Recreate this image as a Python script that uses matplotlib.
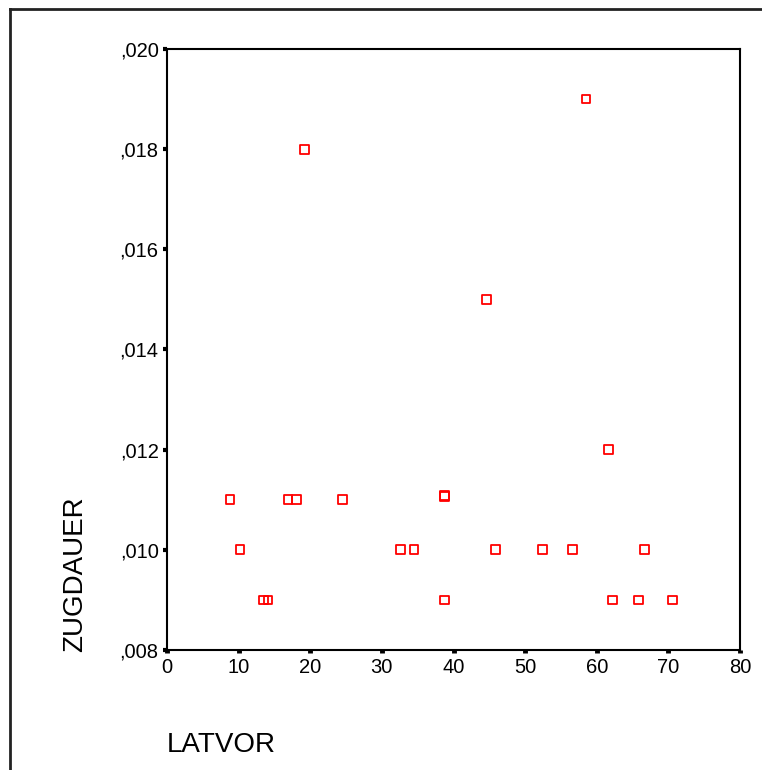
import numpy as np
import matplotlib
matplotlib.use('Agg')
import matplotlib.pyplot as plt
from matplotlib.lines import Line2D

plt.rcParams['font.family'] = ['Liberation Sans', 'DejaVu Sans']

# values
latvor = [8.8, 10.2, 13.5, 14.1, 16.9, 18.1, 19.2, 24.5, 32.6, 34.5,
          38.7, 38.72, 38.7, 44.6, 45.9, 52.4, 56.6, 58.5, 61.6, 62.2,
          65.8, 66.7, 70.6]
zugdauer = [0.011, 0.010, 0.009, 0.009, 0.011, 0.011, 0.018, 0.011, 0.010, 0.010,
            0.01107, 0.01108, 0.009, 0.015, 0.010, 0.010, 0.010, 0.019, 0.012, 0.009,
            0.009, 0.010, 0.009]
x_ticks = [0, 10, 20, 30, 40, 50, 60, 70, 80]
y_ticks = [0.008, 0.010, 0.012, 0.014, 0.016, 0.018, 0.020]
y_labels = [',008', ',010', ',012', ',014', ',016', ',018', ',020']

W, H = 762, 770
fig = plt.figure(figsize=(W / 100, H / 100), dpi=100)

# axes box in pixels: left 167, right 740, top 49, bottom 650
ax = fig.add_axes([167 / W, 1 - 650 / H, (740 - 167) / W, (650 - 49) / H])
ax.scatter(latvor, zugdauer, marker='s', s=40, facecolors='none',
           edgecolors='#ff0000', linewidths=1.3, zorder=3)

ax.set_xlim(0, 80)
ax.set_ylim(0.008, 0.020)
ax.set_xticks(x_ticks)
ax.set_yticks(y_ticks)
ax.set_yticklabels(y_labels)
for s in ax.spines.values():
    s.set_linewidth(1.5)
ax.tick_params(axis='x', direction='out', length=2.5, width=3.5, pad=3, labelsize=14.5)
ax.tick_params(axis='y', direction='out', length=3, width=3, pad=3, labelsize=14.5)

fig.text(167 / W, 1 - 752 / H, 'LATVOR', fontsize=20, ha='left', va='baseline')
fig.text(88 / W, 1 - 652 / H, 'ZUGDAUER', fontsize=20, rotation=90,
         ha='right', va='bottom')

# outer frame of the chart window (cut off at right and bottom)
fig.add_artist(Line2D([10 / W, 10 / W], [0, 1 - 9 / H], transform=fig.transFigure,
                      color='#222222', linewidth=2))
fig.add_artist(Line2D([10 / W, 1], [1 - 9 / H, 1 - 9 / H], transform=fig.transFigure,
                      color='#222222', linewidth=2))

fig.savefig('out.png', dpi=100)
